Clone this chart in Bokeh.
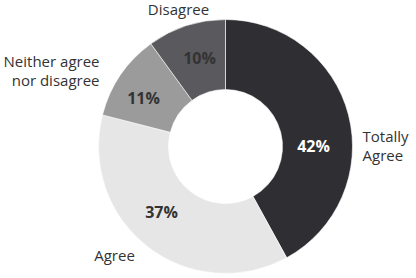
import math
from bokeh.plotting import figure
from bokeh.models import ColumnDataSource
from bokeh.core.properties import value
from bokeh.embed import file_html
from bokeh.resources import INLINE

# ---- data ----
categories = ["Totally Agree", "Agree", "Neither agree nor disagree", "Disagree"]
shares = [42, 37, 11, 10]
pct_labels = ["42%", "37%", "11%", "10%"]

# ---- style / layout ----
colors = ["#2e2e33", "#e6e6e6", "#9b9b9b", "#59595e"]
pct_colors = ["#ffffff", "#333333", "#333333", "#333333"]
W, H = 416, 278
CX, CY = 225, 146          # pixel centre of donut
R_OUT, R_IN = 127, 57
FONT = "Open Sans"

def to_data(px, py):
    return px - CX, CY - py

p = figure(width=W, height=H, x_range=(-CX, W - CX), y_range=(-(H - CY), CY),
           output_backend="svg", toolbar_location=None, min_border=0)
p.axis.visible = False
p.grid.visible = False
p.outline_line_color = None
p.background_fill_color = "white"
p.border_fill_color = "white"

# wedges clockwise from 12 o'clock
total = sum(shares)
starts, ends = [], []
acc = 0.0
for s in shares:
    t0 = acc / total * 2 * math.pi
    acc += s
    t1 = acc / total * 2 * math.pi
    starts.append(math.pi / 2 - t1)
    ends.append(math.pi / 2 - t0)

src = ColumnDataSource(dict(cat=categories, start=starts, end=ends, color=colors))
p.annular_wedge(x=0, y=0, inner_radius=R_IN, outer_radius=R_OUT,
                start_angle="start", end_angle="end", direction="anticlock",
                fill_color="color", line_color="white", line_width=0.6, source=src)

# percentage labels (pixel anchor positions)
pct_pos = [(313, 145), (161, 211), (143, 97), (199, 57)]
px_ = [to_data(*q)[0] for q in pct_pos]
py_ = [to_data(*q)[1] for q in pct_pos]
p.text(x=px_, y=py_, text=pct_labels, text_color=pct_colors,
       text_font=value(FONT), text_font_style="bold", text_font_size="16px",
       text_align="center", text_baseline="middle")

# category labels, line by line
cat_lines = [
    (["Totally", "Agree"], 362, 135, "left"),
    (["Agree"], 114, 254, "center"),
    (["Neither agree", "nor disagree"], 99, 60, "right"),
    (["Disagree"], 178, 8, "center"),
]
LINE_H = 19
tx, ty, tt, ta = [], [], [], []
for lines, x0, y0, al in cat_lines:
    for i, ln in enumerate(lines):
        dx, dy = to_data(x0, y0 + i * LINE_H)
        tx.append(dx); ty.append(dy); tt.append(ln); ta.append(al)
p.text(x=tx, y=ty, text=tt, text_align=ta, text_color="#333333",
       text_font=value(FONT), text_font_size="15px", text_baseline="middle")

open("out.html", "w").write(file_html(p, INLINE))
